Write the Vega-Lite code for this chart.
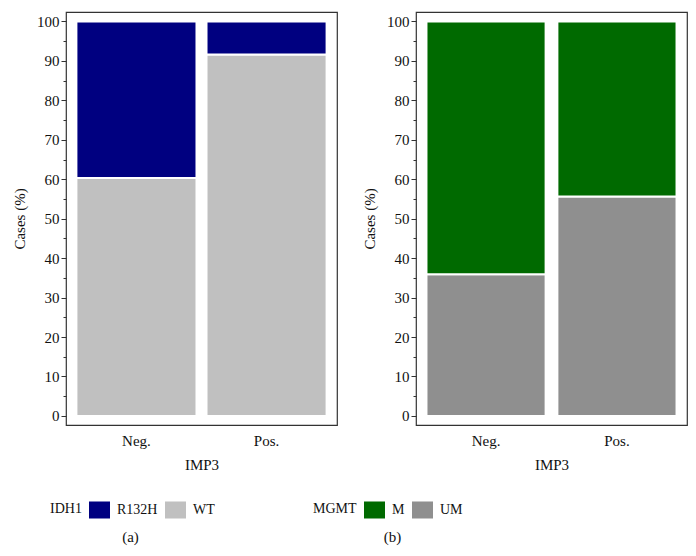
{
  "$schema": "https://vega.github.io/schema/vega-lite/v6.json",
  "background": "white",
  "padding": {"left": 11, "top": 11, "right": 5, "bottom": 5},
  "config": {
    "font": "Liberation Serif, Times New Roman, serif",
    "view": {"stroke": "#333333", "strokeWidth": 1.2},
    "axis": {
      "labelFont": "Liberation Serif, Times New Roman, serif",
      "titleFont": "Liberation Serif, Times New Roman, serif",
      "labelFontSize": 15,
      "titleFontSize": 15,
      "titleFontWeight": "normal",
      "labelColor": "#111111",
      "titleColor": "#111111",
      "grid": false,
      "domain": false,
      "tickColor": "#333333"
    },
    "legend": {
      "labelFont": "Liberation Serif, Times New Roman, serif",
      "titleFont": "Liberation Serif, Times New Roman, serif",
      "labelFontSize": 14,
      "titleFontSize": 14,
      "titleFontWeight": "normal",
      "labelColor": "#111111",
      "titleColor": "#111111"
    },
    "title": {"font": "Liberation Serif, Times New Roman, serif", "fontSize": 15, "fontWeight": "normal", "color": "#111111"}
  },
  "datasets": {
    "idh1": [
      {"IMP3": "Neg.", "IDH1": "WT", "cases": 60.3},
      {"IMP3": "Neg.", "IDH1": "R132H", "cases": 39.7},
      {"IMP3": "Pos.", "IDH1": "WT", "cases": 91.6},
      {"IMP3": "Pos.", "IDH1": "R132H", "cases": 8.4}
    ],
    "mgmt": [
      {"IMP3": "Neg.", "MGMT": "UM", "cases": 35.9},
      {"IMP3": "Neg.", "MGMT": "M", "cases": 64.1},
      {"IMP3": "Pos.", "MGMT": "UM", "cases": 55.6},
      {"IMP3": "Pos.", "MGMT": "M", "cases": 44.4}
    ]
  },
  "spacing": -26,
  "resolve": {"scale": {"color": "independent"}},
  "hconcat": [
    {
      "width": 271,
      "height": 413,
      "data": {"name": "idh1"},
      "title": {"text": "(a)", "orient": "bottom", "anchor": "middle", "frame": "group", "dx": -71, "offset": 11},
      "mark": {"type": "bar", "stroke": "white", "strokeWidth": 2},
      "encoding": {
        "x": {
          "field": "IMP3", "type": "nominal",
          "scale": {"paddingInner": 0.077, "paddingOuter": 0.08},
          "axis": {"title": "IMP3", "labelAngle": 0, "ticks": false, "labelPadding": 8, "titlePadding": 9}
        },
        "y": {
          "field": "cases", "type": "quantitative", "stack": "zero",
          "scale": {"domain": [-2.3, 102.4], "nice": false, "zero": false},
          "axis": {
            "title": "Cases (%)",
            "values": [0, 5, 10, 15, 20, 25, 30, 35, 40, 45, 50, 55, 60, 65, 70, 75, 80, 85, 90, 95, 100],
            "labelExpr": "datum.value % 10 === 0 ? datum.label : ''",
            "tickSize": {"expr": "datum.value % 10 === 0 ? 5 : 3"},
            "labelPadding": 2,
            "titlePadding": 9
          }
        },
        "color": {
          "field": "IDH1", "type": "nominal",
          "scale": {"domain": ["R132H", "WT"], "range": ["#000080", "#C0C0C0"]},
          "legend": {
            "orient": "none", "legendX": -16, "legendY": 487,
            "direction": "horizontal", "titleOrient": "left",
            "symbolType": "M-1,-0.81L1,-0.81L1,0.81L-1,0.81Z",
            "symbolSize": 441, "symbolStrokeWidth": 0, "symbolOpacity": 1,
            "labelOffset": 7, "columnPadding": 7, "titlePadding": 7
          }
        },
        "order": {"field": "IDH1", "sort": "descending"}
      }
    },
    {
      "width": 271,
      "height": 413,
      "data": {"name": "mgmt"},
      "title": {"text": "(b)", "orient": "bottom", "anchor": "middle", "frame": "group", "dx": -159, "offset": 11},
      "mark": {"type": "bar", "stroke": "white", "strokeWidth": 2},
      "encoding": {
        "x": {
          "field": "IMP3", "type": "nominal",
          "scale": {"paddingInner": 0.09, "paddingOuter": 0.08},
          "axis": {"title": "IMP3", "labelAngle": 0, "ticks": false, "labelPadding": 8, "titlePadding": 9}
        },
        "y": {
          "field": "cases", "type": "quantitative", "stack": "zero",
          "scale": {"domain": [-2.3, 102.4], "nice": false, "zero": false},
          "axis": {
            "title": "Cases (%)",
            "values": [0, 5, 10, 15, 20, 25, 30, 35, 40, 45, 50, 55, 60, 65, 70, 75, 80, 85, 90, 95, 100],
            "labelExpr": "datum.value % 10 === 0 ? datum.label : ''",
            "tickSize": {"expr": "datum.value % 10 === 0 ? 5 : 3"},
            "labelPadding": 2,
            "titlePadding": 9
          }
        },
        "color": {
          "field": "MGMT", "type": "nominal",
          "scale": {"domain": ["M", "UM"], "range": ["#006A00", "#8F8F8F"]},
          "legend": {
            "orient": "none", "legendX": -103, "legendY": 487,
            "direction": "horizontal", "titleOrient": "left",
            "symbolType": "M-1,-0.81L1,-0.81L1,0.81L-1,0.81Z",
            "symbolSize": 441, "symbolStrokeWidth": 0, "symbolOpacity": 1,
            "labelOffset": 7, "columnPadding": 7, "titlePadding": 7
          }
        },
        "order": {"field": "MGMT", "sort": "descending"}
      }
    }
  ]
}
